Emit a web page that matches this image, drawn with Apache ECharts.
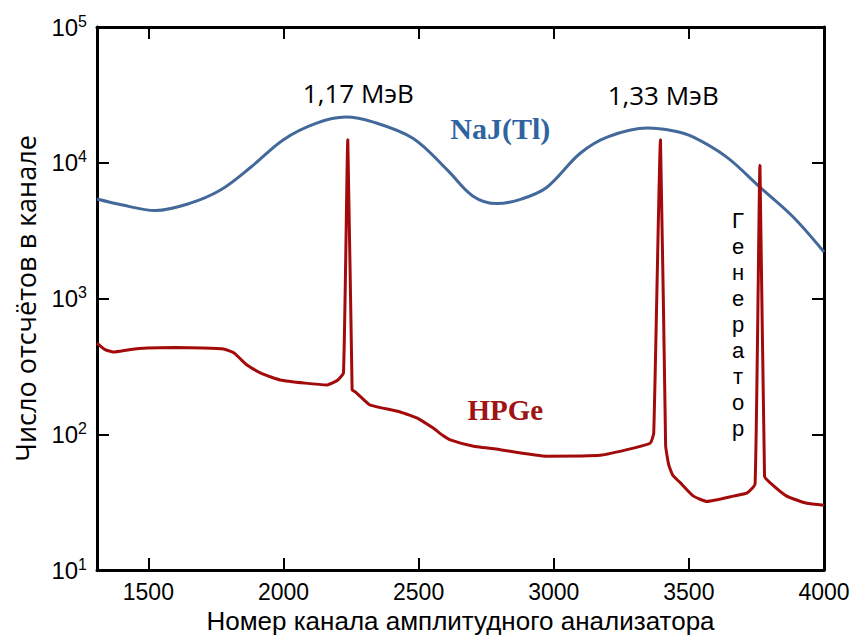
<!DOCTYPE html>
<html><head><meta charset="utf-8">
<script src="https://cdn.jsdelivr.net/npm/echarts@6/dist/echarts.min.js"></script>
<style>html,body{margin:0;padding:0;background:#fff}#c{width:856px;height:637px}</style>
</head><body><div id="c"></div>
<script>
// Channel numbers and counts, NaJ(Tl) scintillator
const najChannels = [1310,1400,1526,1650,1767,1880,2000,2120,2230,2330,2480,2606,2700,2790,2880,2975,3097,3200,3347,3440,3515,3640,3763,3885,4000];
const najCounts   = [5400,4900,4450,5000,6300,9300,14800,19500,21700,20000,15100,8850,5700,5000,5400,6600,11700,15500,18000,17200,15500,11000,6600,4000,2200];
// HPGe detector
const hpgeChannels = [1310,1340,1371,1430,1496,1600,1700,1778,1816,1840,1865,1920,1988,2080,2162,2200,2222,2238,2254,2266,2290,2321,2432,2500,2554,2590,2617,2700,2802,2975,3172,3295,3357,3370,3395,3414,3425,3440,3468,3517,3567,3665,3716,3745,3763,3780,3800,3862,3936,4000];
const hpgeCounts   = [470,420,404,420,431,435,432,425,398,360,324,280,251,238,231,250,283,14800,212,205,185,164,146,130,111,98,91,82,77,69,70,79,86,102,14800,83,60,50,44,35,32,35,37,43,9600,49,44,35,31,30];
const xTicks = [1500,2000,2500,3000,3500,4000];
const peakLabels = [{text:'1,17 МэВ', x:2277, y:32700},{text:'1,33 МэВ', x:3405, y:31500}];
const generatorLetters = ['Г','е','н','е','р','а','т','о','р'];

const font = "'Open Sans', sans-serif";
const lib = "'Liberation Sans', sans-serif";
const chart = echarts.init(document.getElementById('c'), null, {renderer:'svg'});
const toPairs = (xs, ys) => xs.map((x,i)=>[x, ys[i]]);
const axisLine = {show:true, lineStyle:{color:'#000', width:3}};
const option = {
  animation:false,
  grid:{left:97, right:32, top:27, bottom:67, containLabel:false, outerBoundsMode:'none'},
  xAxis:[{
    type:'value', min:1310, max:4000, position:'bottom',
    axisLine:axisLine,
    axisTick:{show:true, inside:true, length:12, lineStyle:{width:2,color:'#000'}, customValues:xTicks},
    axisLabel:{show:true, customValues:xTicks, formatter:v=>String(v), color:'#000', fontFamily:lib, fontSize:23, margin:10},
    splitLine:{show:false},
    name:'Номер канала амплитудного анализатора', nameLocation:'middle', nameGap:37,
    nameTextStyle:{color:'#000', fontFamily:lib, fontSize:26}
  },{
    type:'value', min:1310, max:4000, position:'top',
    axisLine:axisLine,
    axisTick:{show:true, inside:true, length:12, lineStyle:{width:2,color:'#000'}, customValues:xTicks},
    axisLabel:{show:false}, splitLine:{show:false}
  }],
  yAxis:[{
    type:'log', logBase:10, min:10, max:100000, position:'left',
    axisLine:axisLine,
    axisTick:{show:true, inside:true, length:12, lineStyle:{width:2,color:'#000'}},
    minorTick:{show:false},
    axisLabel:{color:'#000', fontFamily:lib, fontSize:24, margin:10,
      formatter:v=>'10{s|'+Math.round(Math.log10(v))+'}',
      rich:{s:{fontFamily:lib, fontSize:16, verticalAlign:'top', padding:[0,0,12,0], color:'#000'}}},
    splitLine:{show:false},
    name:'Число отсчётов в канале', nameLocation:'middle', nameGap:58,
    nameTextStyle:{color:'#000', fontFamily:font, fontSize:27}
  },{
    type:'log', logBase:10, min:10, max:100000, position:'right',
    axisLine:axisLine,
    axisTick:{show:true, inside:true, length:12, lineStyle:{width:2,color:'#000'}},
    axisLabel:{show:false}, splitLine:{show:false}
  }],
  series:[{
    name:'NaJ(Tl)', type:'line', data:toPairs(najChannels, najCounts), smooth:0.35,
    showSymbol:false, lineStyle:{color:'#43699a', width:3}, z:2
  },{
    name:'HPGe', type:'line', data:toPairs(hpgeChannels, hpgeCounts), smooth:0.15,
    showSymbol:false, lineStyle:{color:'#a30b0b', width:3}, z:3
  }]
};
chart.setOption(option);
const px = (x,y)=>chart.convertToPixel({xAxisIndex:0, yAxisIndex:0}, [x,y]);
const graphics = [];
peakLabels.forEach(p=>{
  const [gx,gy] = px(p.x,p.y);
  graphics.push({type:'text', x:gx, y:gy, style:{text:p.text, fill:'#000', font:"26px "+font, textAlign:'center', textVerticalAlign:'middle'}});
});
let q = px(2802, 18000);
graphics.push({type:'text', x:q[0], y:q[1], style:{text:'NaJ(Tl)', fill:'#2e64a0', font:"bold 30px 'Liberation Serif', serif", textAlign:'center', textVerticalAlign:'middle'}});
q = px(2821, 151);
graphics.push({type:'text', x:q[0], y:q[1], style:{text:'HPGe', fill:'#9e1414', font:"bold 29px 'Liberation Serif', serif", textAlign:'center', textVerticalAlign:'middle'}});
q = px(3682, 640);
generatorLetters.forEach((ch,i)=>{
  graphics.push({type:'text', x:q[0], y:q[1] + (i-4)*26, style:{text:ch, fill:'#000', font:"22px 'Liberation Sans', sans-serif", textAlign:'center', textVerticalAlign:'middle'}});
});
chart.setOption({graphic:graphics});
</script></body></html>
